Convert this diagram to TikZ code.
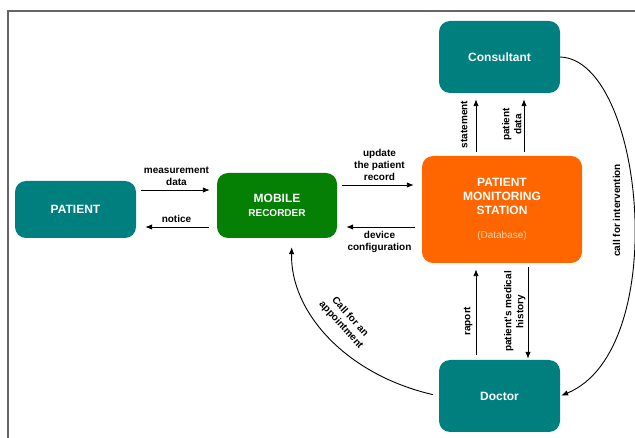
\documentclass[tikz,border=0pt]{standalone}
\usepackage{fontspec}
\setmainfont{Liberation Sans}
\usetikzlibrary{arrows.meta}
\definecolor{tealbox}{HTML}{007F7F}
\definecolor{greenbox}{HTML}{058005}
\definecolor{orangebox}{HTML}{FF6600}
\definecolor{dbtext}{HTML}{FFD2B4}
\begin{document}
\begin{tikzpicture}[x=1pt, y=-1pt, >={Latex[length=7pt,width=5.5pt]},
    box/.style={rounded corners=11pt, text=white, align=center, inner sep=0pt,
        font=\fontsize{12}{14}\selectfont\bfseries},
    flow/.style={->, line width=0.9pt},
    lbl/.style={font=\fontsize{10}{12}\selectfont\bfseries, align=center, inner sep=2pt}]
    \useasboundingbox (0,0) rectangle (635,438);
    \draw[line width=1.3pt, black!60] (8,438) -- (8,11) -- (635,11);

    \node[box, fill=tealbox, minimum width=121pt, minimum height=57pt] (pat) at (75.5,209.5) {PATIENT};
    \node[box, fill=greenbox, minimum width=120pt, minimum height=65pt] (mob) at (277,205.5)
        {MOBILE\\{\fontsize{10}{13}\selectfont RECORDER}};
    \node[box, fill=orangebox, minimum width=160pt, minimum height=107pt] (pms) at (502,209.5)
        {PATIENT\\MONITORING\\STATION\\[10pt]{\fontsize{10}{12}\selectfont\mdseries\color{dbtext}(Database)}};
    \node[box, fill=tealbox, minimum width=121pt, minimum height=72pt] (cons) at (499.5,57) {Consultant};
    \node[box, fill=tealbox, minimum width=121pt, minimum height=72pt] (doc) at (499.5,396) {Doctor};

    \draw[flow, shorten <=5pt, shorten >=7pt] (pat.east |- 0,190) -- node[lbl, above=2pt] {measurement\\data} (mob.west |- 0,190);
    \draw[flow, shorten <=8pt, shorten >=9pt] (mob.west |- 0,227) -- node[lbl, above=2pt] {notice} (pat.east |- 0,227);
    \draw[flow, shorten <=5pt, shorten >=8pt] (mob.east |- 0,185) -- node[lbl, above=2pt] {update\\the patient\\record} (pms.west |- 0,185);
    \draw[flow, shorten <=7pt, shorten >=9pt] (pms.west |- 0,227) -- node[lbl, below=2pt] {device\\configuration} (mob.east |- 0,227);

    \draw[flow, shorten <=4pt, shorten >=6pt] (pms.north -| 476,0) -- node[lbl, rotate=90, anchor=south, inner ysep=8pt] {statement} (cons.south -| 476,0);
    \draw[flow, shorten <=4pt, shorten >=6pt] (pms.north -| 524,0) -- node[lbl, rotate=90, anchor=south, inner ysep=2pt] {patient\\data} (cons.south -| 524,0);
    \draw[flow, shorten <=5pt, shorten >=6pt] (doc.north -| 476,0) -- node[lbl, pos=0.4, rotate=90, anchor=south, inner ysep=3pt] {raport} (pms.south -| 476,0);
    \draw[flow, shorten <=4pt, shorten >=1pt] (pms.south -| 528,0) -- node[lbl, rotate=90, anchor=south, inner ysep=2pt] {patient's medical\\history} (doc.north -| 528,0);

    \draw[flow, shorten >=1pt] (cons.east) .. controls +(84,3) and +(112,-46) .. node[lbl, pos=0.5, rotate=90, anchor=south, inner ysep=13pt] {call for intervention} (doc.east);
    \draw[flow, shorten <=6pt, shorten >=9pt] (doc.west) .. controls +(-95,-22) and +(-2,72) .. node[lbl, sloped, above=9pt] {Call for an\\appointment} ([xshift=15pt]mob.south);
\end{tikzpicture}
\end{document}
